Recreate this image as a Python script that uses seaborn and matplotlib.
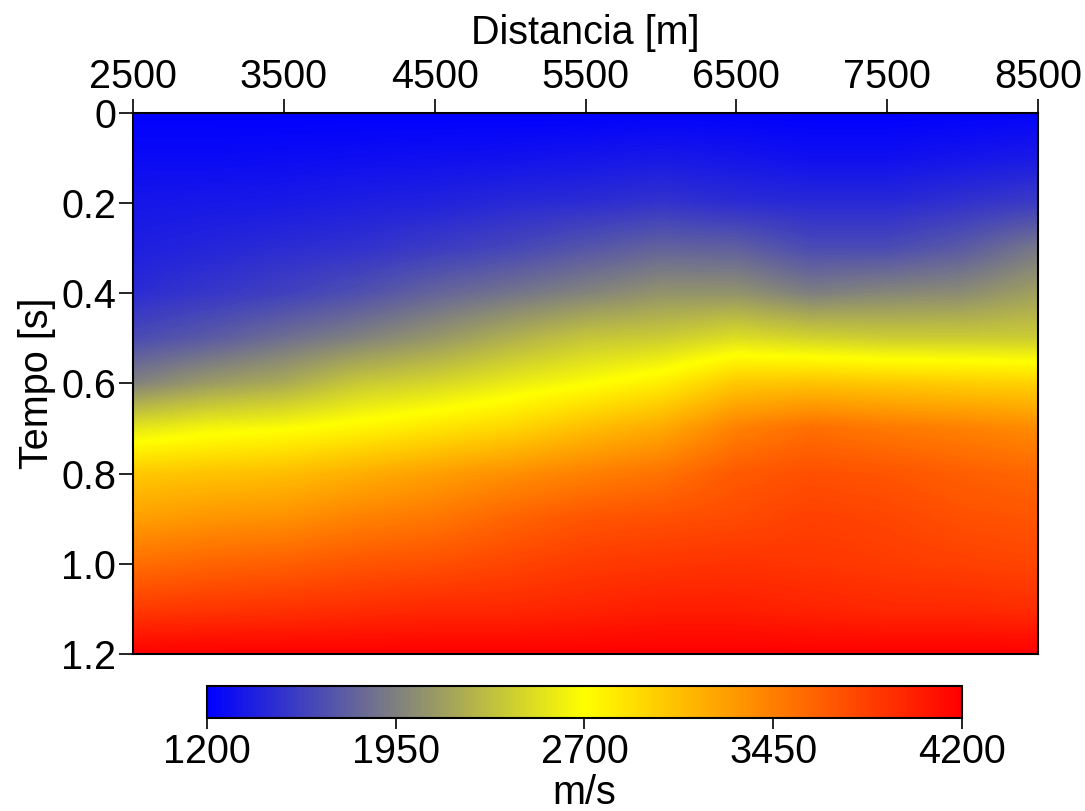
import numpy as np
import matplotlib
matplotlib.use("Agg")
import matplotlib.pyplot as plt
import seaborn as sns

sns.set_style("ticks")
plt.rcParams['font.family'] = ['Liberation Sans', 'DejaVu Sans']
plt.rcParams['text.color'] = 'black'
plt.rcParams['axes.labelcolor'] = 'black'
plt.rcParams['xtick.color'] = 'black'
plt.rcParams['ytick.color'] = 'black'

# Distance positions (m) and time samples (s) of the velocity readings
distance = [2500, 3000, 3500, 4000, 4500, 5000, 5500, 6000, 6500, 7000, 7500, 8000, 8500]
tempo = [0.0, 0.1, 0.2, 0.3, 0.4, 0.5, 0.6, 0.7, 0.8, 0.9, 1.0, 1.1, 1.2]

# Velocity (m/s) columns, one per distance, values from t=0 to t=1.2
v_2500 = [1200, 1260, 1330, 1380, 1460, 1640, 1960, 2550, 3020, 3260, 3550, 3850, 4200]
v_3000 = [1200, 1260, 1340, 1420, 1520, 1730, 2110, 2640, 3050, 3320, 3610, 3880, 4200]
v_3500 = [1200, 1270, 1350, 1460, 1580, 1850, 2200, 2680, 3080, 3350, 3640, 3900, 4200]
v_4000 = [1200, 1280, 1380, 1490, 1670, 1960, 2380, 2760, 3170, 3440, 3700, 3930, 4200]
v_4500 = [1200, 1290, 1400, 1550, 1790, 2080, 2460, 2850, 3260, 3500, 3730, 3960, 4200]
v_5000 = [1200, 1300, 1440, 1610, 1880, 2230, 2580, 2940, 3350, 3610, 3790, 3960, 4200]
v_5500 = [1200, 1320, 1460, 1700, 1970, 2360, 2680, 3080, 3440, 3700, 3850, 3990, 4200]
v_6000 = [1210, 1340, 1500, 1780, 2060, 2400, 2800, 3200, 3520, 3730, 3880, 4020, 4200]
v_6500 = [1210, 1320, 1460, 1760, 2060, 2500, 3020, 3440, 3670, 3760, 3900, 4020, 4200]
v_7000 = [1200, 1290, 1440, 1640, 1940, 2440, 3050, 3550, 3730, 3820, 3880, 3990, 4200]
v_7500 = [1200, 1290, 1440, 1640, 1990, 2400, 3020, 3490, 3700, 3790, 3850, 3960, 4200]
v_8000 = [1210, 1320, 1490, 1730, 2020, 2400, 2990, 3440, 3640, 3730, 3820, 3960, 4200]
v_8500 = [1220, 1350, 1550, 1900, 2140, 2400, 2960, 3380, 3590, 3700, 3790, 3930, 4200]

x_ticks = [2500, 3500, 4500, 5500, 6500, 7500, 8500]
y_ticks = [0, 0.2, 0.4, 0.6, 0.8, 1.0, 1.2]
y_ticklabels = ["0", "0.2", "0.4", "0.6", "0.8", "1.0", "1.2"]
cbar_ticks = [1200, 1950, 2700, 3450, 4200]

columns = [v_2500, v_3000, v_3500, v_4000, v_4500, v_5000, v_5500,
           v_6000, v_6500, v_7000, v_7500, v_8000, v_8500]
V = np.array(columns, dtype=float).T  # rows: time, cols: distance

cmap = sns.blend_palette(["#0000ff", "#ffff00", "#ff0000"], as_cmap=True)

fig = plt.figure(figsize=(10.85, 8.11), dpi=100)
ax = fig.add_axes([0.1226, 0.1936, 0.8341, 0.6671])
dx = (distance[1] - distance[0]) / 2
dt = (tempo[1] - tempo[0]) / 2
img = ax.imshow(V, cmap=cmap, vmin=1200, vmax=4200, aspect='auto',
                interpolation='bilinear', interpolation_stage='data',
                origin='upper',
                extent=[distance[0] - dx, distance[-1] + dx, tempo[-1] + dt, tempo[0] - dt])
ax.set_xlim(2500, 8500)
ax.set_ylim(1.2, 0)
ax.xaxis.tick_top()
ax.xaxis.set_label_position('top')
ax.set_xticks(x_ticks)
ax.set_yticks(y_ticks)
ax.set_yticklabels(y_ticklabels)
fs = 28.5
ax.tick_params(axis='both', labelsize=fs, length=10, width=1.2, direction='out',
               color='black', pad=2)
ax.set_xlabel("Distancia [m]", fontsize=fs, labelpad=10)
ax.set_ylabel("Tempo [s]", fontsize=fs, labelpad=4)
for s in ax.spines.values():
    s.set_linewidth(1.5)
    s.set_color('black')

cax = fig.add_axes([0.1908, 0.1147, 0.6958, 0.0395])
cb = fig.colorbar(img, cax=cax, orientation='horizontal', ticks=cbar_ticks)
cb.ax.tick_params(labelsize=fs, length=8, width=1.2, direction='out', pad=3,
                  color='black', labelcolor='black')
cb.set_label("m/s", fontsize=fs, labelpad=2)
cb.outline.set_linewidth(1.5)
cb.outline.set_edgecolor('black')

fig.savefig("out.png", dpi=100)
